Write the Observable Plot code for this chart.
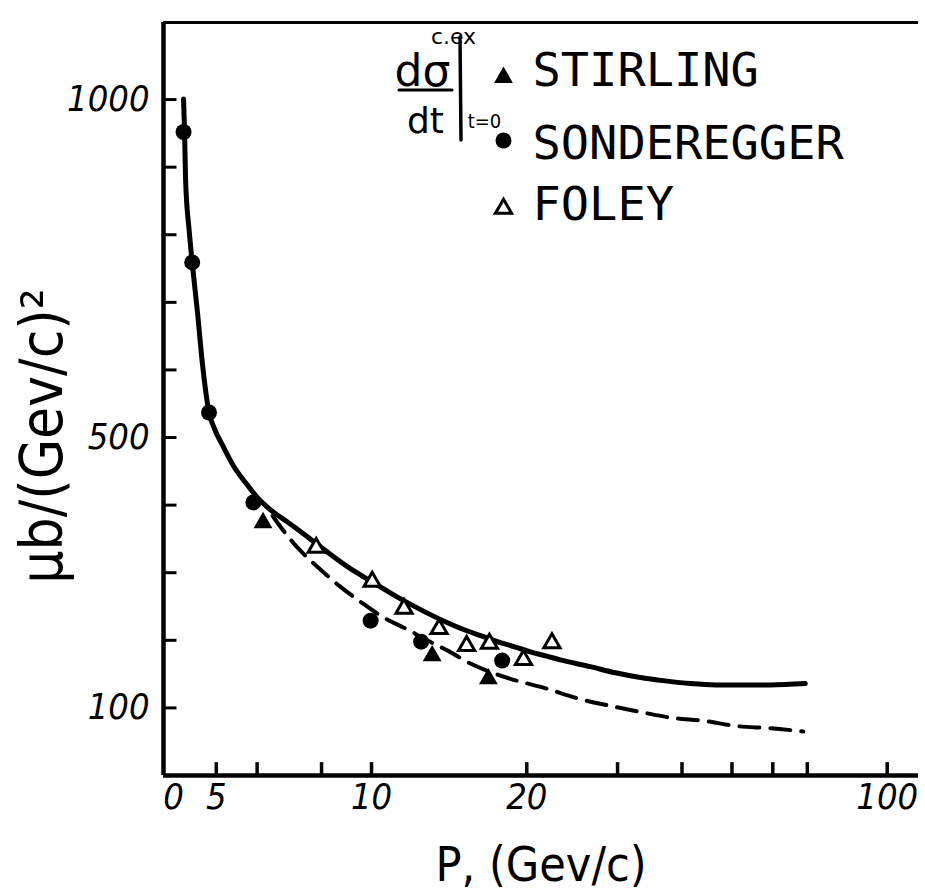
<!DOCTYPE html>
<html><head><meta charset="utf-8">
<script src="https://cdn.jsdelivr.net/npm/d3@7"></script>
<script src="https://cdn.jsdelivr.net/npm/@observablehq/plot@0.6"></script>
<style>
body{margin:0;background:#fff;}
#chart{width:925px;height:895px;}
</style></head><body><div id="chart"></div>
<script>
// ---- data ----
const sondereggerP = [4.32, 4.49, 4.84, 5.90, 9.96, 12.48, 17.92];
const sondereggerV = [952, 759, 537, 404, 229, 198, 170];
const stirlingP = [6.16, 13.11, 16.85];
const stirlingV = [374, 177, 143];
const foleyP = [7.81, 10.03, 11.56, 13.52, 15.29, 16.93, 19.71, 22.38];
const foleyV = [337, 287, 247, 217, 192, 195, 171, 196];
const solidP = [4.32, 4.34, 4.36, 4.43, 4.49, 4.60, 4.70, 4.84, 4.96, 5.17, 5.40, 5.70, 6.01, 6.37, 6.87, 7.28, 7.79, 8.33, 8.98, 9.65, 10.41, 11.23, 12.06, 13.01, 14.04, 15.08, 16.27, 17.55, 19.01, 20.33, 21.74, 23.24, 26.57, 29.71, 33.21, 37.13, 41.52, 46.42, 51.90, 59.33, 69.36];
const solidV = [1001, 951, 880, 806, 759, 683, 609, 537, 513, 485, 458, 433, 411, 393, 375, 361, 344, 327, 309, 294, 279, 264, 251, 238, 226, 216, 207, 198, 190, 183, 177, 171, 161, 152, 145, 140, 136, 134, 134, 134, 136];
const dashedP = [6.43, 6.75, 7.25, 7.90, 8.71, 9.52, 10.65, 11.74, 12.90, 14.11, 15.42, 17.01, 18.59, 21.54, 25.41, 29.45, 33.21, 38.48, 44.00, 51.21, 59.33, 68.74];
const dashedV = [384, 362, 334, 307, 279, 257, 232, 216, 199, 184, 167, 153, 143, 130, 113, 102, 94, 85, 81, 73, 70, 65];
const xTicks = [5, 6, 8, 10, 20, 30, 40, 50, 60, 70, 100];
const xLabels = [5, 10, 20, 100];
const yTicks = [100, 200, 300, 400, 500, 600, 700, 800, 900, 1000];
const yLabels = [100, 500, 1000];
const legendNames = ["STIRLING", "SONDEREGGER", "FOLEY"];
const xDomain = [3.95, 115];
const yDomain = [0, 1114];
const xTitle = "P, (Gev/c)";
const yTitle = "μb/(Gev/c)²";

// ---- tables ----
const toRows = (P, V) => P.map((p, i) => ({p, v: V[i]}));
const sonderegger = toRows(sondereggerP, sondereggerV);
const stirling = toRows(stirlingP, stirlingV);
const foley = toRows(foleyP, foleyV);
const solid = toRows(solidP, solidV);
const dashed = toRows(dashedP, dashedV);

const narrow = "'DejaVu Sans Condensed', 'Liberation Sans Narrow', sans-serif";
const mono = "'DejaVu Sans Mono', monospace";
const sans = "'DejaVu Sans', sans-serif";

// style: inward tick length of the x axis, expressed in y units (~13px)
const xTickLength = 19;
const tickRight = {draw(context) { context.moveTo(0, 0); context.lineTo(13, 0); }};

// legend layout (offsets from the frame's top-left corner)
const legendSymbolDx = 340, legendSymbolDy = [55, 118, 186];
const legendTextDx = 369, legendTextDy = [48, 121, 182];
const legendSymbols = [
  {symbol: "triangle", fill: "black", stroke: "none", r: 7, strokeWidth: 0},
  {symbol: "circle", fill: "black", stroke: "none", r: 8, strokeWidth: 0},
  {symbol: "triangle", fill: "white", stroke: "black", r: 6, strokeWidth: 3}
];

function formulaBars(index, scales, values, dimensions) {
  const ox = dimensions.marginLeft, oy = dimensions.marginTop;
  const g = d3.create("svg:g").attr("stroke", "black").attr("stroke-linecap", "round").attr("fill", "none");
  g.append("line").attr("x1", ox + 236).attr("x2", ox + 289).attr("y1", oy + 68).attr("y2", oy + 68).attr("stroke-width", 3);
  g.append("line").attr("x1", ox + 297).attr("x2", ox + 298).attr("y1", oy + 15).attr("y2", oy + 118).attr("stroke-width", 3.5);
  return g.node();
}

const marks = [
  Plot.line(solid, {x: "p", y: "v", stroke: "black", strokeWidth: 5, curve: "monotone-x"}),
  Plot.line(dashed, {x: "p", y: "v", stroke: "black", strokeWidth: 4, strokeDasharray: "20,11", curve: "monotone-x"}),
  Plot.ruleX([xDomain[0]], {strokeWidth: 4.5}),
  Plot.ruleY([yDomain[0]], {strokeWidth: 4.5}),
  Plot.ruleY([yDomain[1]], {strokeWidth: 3}),
  // inward ticks
  Plot.ruleX(xTicks, {x: d => d, y1: () => yDomain[0], y2: () => yDomain[0] + xTickLength, stroke: "black", strokeWidth: 3.5}),
  Plot.dot(yTicks, {x: () => xDomain[0], y: d => d, symbol: tickRight, r: 5, fill: "none", stroke: "black", strokeWidth: 3}),
  // tick labels
  Plot.axisX(xLabels, {tickSize: 0, tickPadding: 8, fontSize: 36, fontFamily: narrow, fontStyle: "italic", tickFormat: d => `${d}`, label: null}),
  Plot.axisY(yLabels, {tickSize: 0, tickPadding: 14, fontSize: 36, fontFamily: narrow, fontStyle: "italic", tickFormat: d => `${d}`, label: null}),
  Plot.text(["0"], {x: () => xDomain[0], y: () => yDomain[0], dx: 10, dy: 8, lineAnchor: "top", textAnchor: "middle", fontSize: 36, fontFamily: narrow, fontStyle: "italic"}),
  // axis titles
  Plot.text([xTitle], {frameAnchor: "bottom", dy: 105, textAnchor: "middle", lineAnchor: "bottom", fontSize: 48, fontFamily: narrow}),
  Plot.text([yTitle], {frameAnchor: "left", dx: -120, dy: 37, rotate: -90, textAnchor: "middle", lineAnchor: "middle", fontSize: 58, fontFamily: narrow}),
  // data
  Plot.dot(sonderegger, {x: "p", y: "v", r: 8, fill: "black", stroke: "none"}),
  Plot.dot(stirling, {x: "p", y: "v", r: 7, symbol: "triangle", fill: "black", stroke: "none"}),
  Plot.dot(foley, {x: "p", y: "v", r: 6, symbol: "triangle", fill: "white", stroke: "black", strokeWidth: 3}),
  // formula
  Plot.text(["dσ"], {frameAnchor: "top-left", dx: 259, dy: 63, textAnchor: "middle", lineAnchor: "bottom", fontSize: 44, fontFamily: sans}),
  Plot.text(["dt"], {frameAnchor: "top-left", dx: 262, dy: 110, textAnchor: "middle", lineAnchor: "bottom", fontSize: 36, fontFamily: sans}),
  Plot.text(["c.ex"], {frameAnchor: "top-left", dx: 290, dy: 21, textAnchor: "middle", lineAnchor: "bottom", fontSize: 22, fontFamily: sans}),
  Plot.text(["t=0"], {frameAnchor: "top-left", dx: 321, dy: 105, textAnchor: "middle", lineAnchor: "bottom", fontSize: 20, fontFamily: narrow}),
  formulaBars,
  // legend
  ...legendNames.map((name, i) => Plot.text([name], {frameAnchor: "top-left", dx: legendTextDx, dy: legendTextDy[i], textAnchor: "start", lineAnchor: "middle", fontSize: 47, fontFamily: mono})),
  ...legendSymbols.map((s, i) => Plot.dot([legendNames[i]], {x: null, y: null, frameAnchor: "top-left", dx: legendSymbolDx, dy: legendSymbolDy[i], ...s}))
];

const plot = Plot.plot({
  width: 925,
  height: 895,
  marginLeft: 163,
  marginRight: 7,
  marginTop: 22,
  marginBottom: 120,
  style: {background: "white", color: "black", fontFamily: narrow},
  x: {type: "log", domain: xDomain, label: null},
  y: {domain: yDomain, label: null},
  marks
});
document.getElementById("chart").append(plot);
</script>
</body></html>
